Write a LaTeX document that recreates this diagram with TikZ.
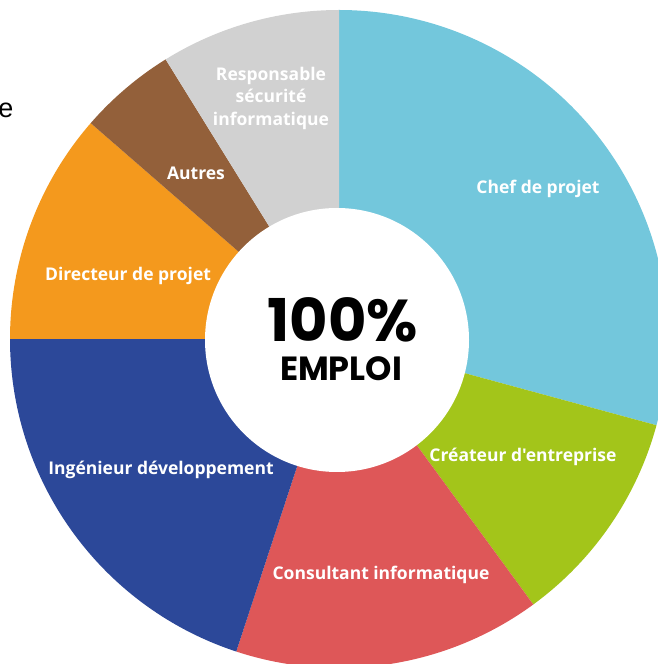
\documentclass[tikz,border=0pt]{standalone}
\usepackage{fontspec}
\newfontfamily\lblfont{Open Sans}[BoldFont={* Bold}]
\newfontfamily\bigfont{Poppins}[BoldFont={* Bold}]
\newfontfamily\plainfont{Liberation Sans}
\definecolor{cchef}{HTML}{73C7DC}
\definecolor{ccrea}{HTML}{A3C51A}
\definecolor{ccons}{HTML}{DE5758}
\definecolor{cing}{HTML}{2C4899}
\definecolor{cdir}{HTML}{F4991D}
\definecolor{caut}{HTML}{93603A}
\definecolor{cresp}{HTML}{D1D1D1}
\tikzset{
  lbl/.style={text=white, inner sep=0pt, font=\lblfont\bfseries\fontsize{17.5}{22.5}\selectfont, align=center},
}
\newcommand{\slice}[3]{\fill[#1] (339,325) -- ++(#2:329) arc[start angle=#2, end angle=#3, radius=329] -- cycle;}
\begin{document}
\begin{tikzpicture}[x=1pt,y=1pt]
\useasboundingbox (0,0) rectangle (658,664);
\clip (0,0) rectangle (658,664);
\slice{cchef}{-15.2}{90}
\slice{ccrea}{-53.8}{-15.2}
\slice{ccons}{-108.2}{-53.8}
\slice{cing}{-180}{-108.2}
\slice{cdir}{139}{180}
\slice{caut}{121.8}{139}
\slice{cresp}{90}{121.8}
\fill[white] (337,324) circle[radius=132];
\node[lbl] (resp) at (271,566) {Responsable\\sécurité\\informatique};
\node[lbl] (aut) at (196,491) {Autres};
\node[lbl] (chef) at (538,475) {Chef de projet};
\node[lbl] (dir) at (128,388) {Directeur de projet};
\node[lbl] (crea) at (523,207) {Créateur d'entreprise};
\node[lbl] (cons) at (381,89) {Consultant informatique};
\node[lbl] (ing) at (161,194) {Ingénieur développement};
\node[inner sep=0pt, font=\bigfont\bfseries\fontsize{59}{59}\selectfont] (pct) at (343,344) {100\%};
\node[inner sep=0pt, font=\bigfont\bfseries\fontsize{33.5}{33.5}\selectfont] (emp) at (341,295) {EMPLOI};
\node[inner sep=0pt, font=\plainfont\fontsize{27}{27}\selectfont] (frag) at (6,554) {e};
\end{tikzpicture}
\end{document}
